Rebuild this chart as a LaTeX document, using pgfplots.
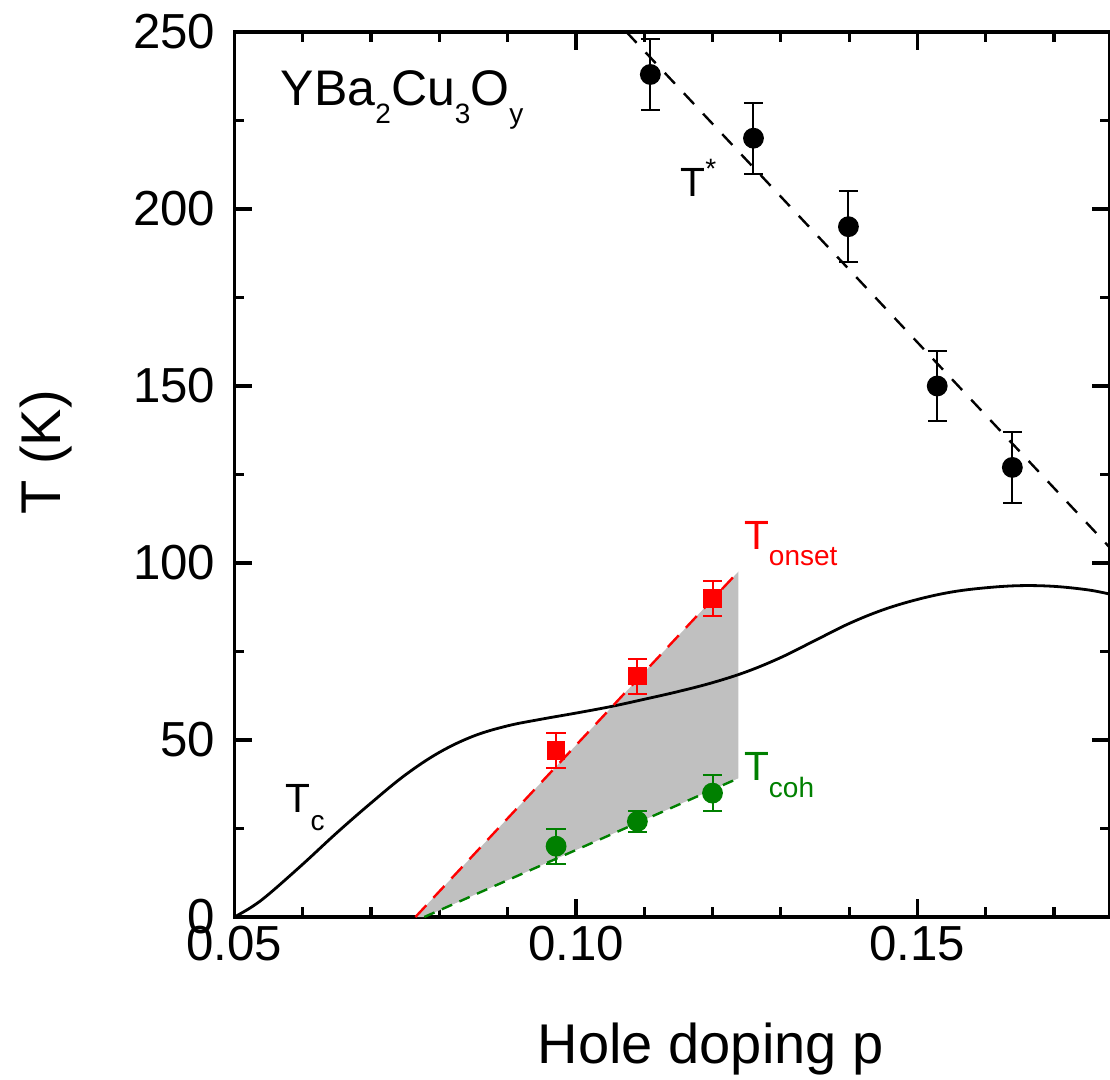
\documentclass[border=0pt]{standalone}
\usepackage{pgfplots}
\pgfplotsset{compat=1.18}
\usepackage{fontspec}
\setmainfont{Liberation Sans}
\definecolor{tgreen}{RGB}{0,128,0}
\definecolor{shade}{RGB}{192,192,192}
\newcommand{\dn}[2][-4.5pt]{\raisebox{#1}{\fontsize{7}{7}\selectfont #2}}

\begin{document}
\begin{tikzpicture}
\begin{axis}[
    name=ax,
    scale only axis,
    width=218.9pt,
    height=221.25pt,
    %
    xmin=0.05, xmax=0.1782,
    ymin=0, ymax=250,
    %
    xtick={0.05,0.10,0.15},
    xticklabels={0.05,0.10,0.15},
    minor xtick={0.06,0.07,0.08,0.09,0.11,0.12,0.13,0.14,0.16,0.17},
    ytick={0,50,100,150,200,250},
    minor ytick={25,75,125,175,225},
    %
    tick align=inside,
    major tick length=4.5pt,
    minor tick length=2.5pt,
    tick style={line width=0.8pt, black},
    axis line style={line width=0.8pt},
    tick label style={font=\fontsize{12.3}{12.3}\selectfont, inner sep=1pt},
    yticklabel style={xshift=-3.6pt},
    xticklabel style={yshift=-1pt},
    /pgf/number format/assume math mode=true,
    %
    xlabel={Hole doping p},
    ylabel={T (K)},
    label style={font=\fontsize{14}{14}\selectfont},
    xlabel style={at={(axis description cs:0.544,-0.165)}, anchor=base},
    ylabel style={at={(axis description cs:-0.199,0.525)}, anchor=base, rotate=0},
    clip=true
]
% shaded region between T_onset and T_coh
\addplot[draw=none, fill=shade] coordinates {
    (0.0765,0) (0.1238,97.6) (0.1238,39.2) (0.0778,0)
} -- cycle;

% T_c dome
\addplot[black, line width=0.7pt, smooth, tension=0.6] coordinates {
    (0.0500,0) (0.0525,2.8) (0.0550,6.4) (0.0600,14.9) (0.0650,23.8)
    (0.0700,32.2) (0.0750,40.1) (0.0800,46.5) (0.0850,51.1) (0.0900,54.0)
    (0.0950,55.9) (0.1000,57.6) (0.1050,59.4) (0.1100,61.5) (0.1150,63.7)
    (0.1200,66.2) (0.1250,69.3) (0.1300,73.3) (0.1350,78.1) (0.1400,82.9)
    (0.1450,86.8) (0.1500,89.7) (0.1550,91.8) (0.1600,93.0) (0.1650,93.6)
    (0.1700,93.4) (0.1750,92.4) (0.1782,91.2)
};

% guide lines
\addplot[black, line width=0.6pt, dash pattern=on 3.7pt off 3.3pt] coordinates {
    (0.1074,250) (0.1782,104.3)
};
\addplot[red, line width=0.6pt, dash pattern=on 4pt off 2.6pt] coordinates {
    (0.0765,0) (0.1238,97.6)
};
\addplot[tgreen, line width=0.6pt, dash pattern=on 2.8pt off 2pt] coordinates {
    (0.0778,0) (0.1238,39.2)
};

% T*
\addplot[black, only marks, mark=*, mark size=2.4pt,
    error bars/.cd, y dir=both, y explicit,
    error bar style={line width=0.5pt},
    error mark options={rotate=90, mark size=2.4pt, line width=0.5pt}]
coordinates {
    (0.1109,238) +- (0,10)
    (0.1260,220) +- (0,10)
    (0.1399,195) +- (0,10)
    (0.1529,150) +- (0,10)
    (0.1639,127) +- (0,10)
};

% T_onset
\addplot[red, only marks, mark=square*, mark size=2.1pt,
    error bars/.cd, y dir=both, y explicit,
    error bar style={line width=0.5pt},
    error mark options={rotate=90, mark size=2.4pt, line width=0.5pt}]
coordinates {
    (0.0971,47) +- (0,5)
    (0.1090,68) +- (0,5)
    (0.1200,90) +- (0,5)
};

% T_coh
\addplot[tgreen, only marks, mark=*, mark size=2.4pt,
    error bars/.cd, y dir=both, y explicit,
    error bar style={line width=0.5pt},
    error mark options={rotate=90, mark size=2.4pt, line width=0.5pt}]
coordinates {
    (0.0971,20) +- (0,5)
    (0.1090,27) +- (0,3)
    (0.1200,35) +- (0,5)
};

% labels
\node[anchor=base west, inner sep=0pt, font=\fontsize{12.5}{12.5}\selectfont]
    at (axis cs:0.0567,229.1) {YBa\dn{2}Cu\dn{3}O\dn{y}};
\node[anchor=base west, inner sep=0pt, font=\fontsize{10.2}{10.2}\selectfont]
    at (axis cs:0.1152,203.5) {T\raisebox{4.5pt}{\fontsize{7}{7}\selectfont *}};
\node[anchor=base west, inner sep=0pt, font=\fontsize{10.2}{10.2}\selectfont]
    at (axis cs:0.0574,29.4) {T\dn{c}};
\node[anchor=base west, inner sep=0pt, text=red, font=\fontsize{10.2}{10.2}\selectfont]
    at (axis cs:0.1245,103.7) {T\dn[-4pt]{onset}};
\node[anchor=base west, inner sep=0pt, text=tgreen, font=\fontsize{10.2}{10.2}\selectfont]
    at (axis cs:0.1245,38.7) {T\dn[-4.3pt]{coh}};
\end{axis}
\pgfresetboundingbox
\path ([xshift=-58.6pt,yshift=-40.5pt]ax.south west) rectangle ([yshift=8pt]ax.north east);
\end{tikzpicture}
\end{document}
